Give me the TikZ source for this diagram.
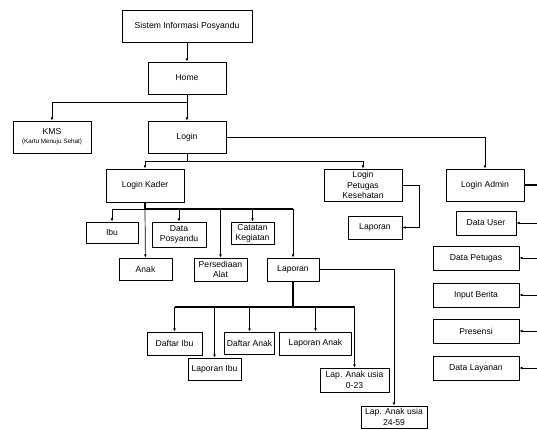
\documentclass[tikz,border=0pt]{standalone}
\usepackage{fontspec}
\setmainfont{Liberation Sans}
\usetikzlibrary{arrows.meta}

\tikzset{
  box/.style={draw, line width=0.9pt, inner sep=0pt, align=center,
    font=\fontsize{8.6}{10.2}\selectfont},
  link/.style={line width=0.7pt, -{Latex[length=3.2pt,width=2.8pt]}},
  bar/.style={line width=0.7pt},
  trunk/.style={line width=1.5pt}
}

\begin{document}
\begin{tikzpicture}[x=1pt,y=-1pt]
\useasboundingbox (0,0) rectangle (537,430);
% boxes
\node[box, minimum width=130pt, minimum height=32pt] (sip) at (187,26) {Sistem Informasi Posyandu};
\node[box, minimum width=78pt, minimum height=32pt] (home) at (187,78) {Home};
\node[box, minimum width=78pt, minimum height=32pt] (kms) at (52,137) {KMS\\[-1pt]{\fontsize{6.3}{8}\selectfont (Kartu Menuju Sehat)}};
\node[box, minimum width=78pt, minimum height=32pt] (login) at (187,137) {Login};
\node[box, minimum width=78pt, minimum height=33pt] (kader) at (145,185.5) {Login Kader};
\node[box, minimum width=78pt, minimum height=32pt] (petugas) at (363,185) {Login\\Petugas\\Kesehatan};
\node[box, minimum width=78pt, minimum height=32pt] (admin) at (485,185) {Login Admin};
\node[box, minimum width=54pt, minimum height=23pt] (lappetugas) at (375,227.5) {Laporan};
% admin menu
\node[box, minimum width=60pt, minimum height=24pt] (user) at (486,223) {Data User};
\node[box, minimum width=86pt, minimum height=24pt] (datapetugas) at (476,258) {Data Petugas};
\node[box, minimum width=86pt, minimum height=24pt] (berita) at (476,295) {Input Berita};
\node[box, minimum width=86pt, minimum height=24pt] (presensi) at (476,331) {Presensi};
\node[box, minimum width=86pt, minimum height=24pt] (layanan) at (476,368) {Data Layanan};
% kader menu
\node[box, minimum width=52pt, minimum height=21pt] (ibu) at (112,232.5) {Ibu};
\node[box, minimum width=53pt, minimum height=22pt] (anak) at (145.5,269) {Anak};
\node[box, minimum width=54pt, minimum height=25pt] (datapos) at (179,234.5) {Data\\Posyandu};
\node[box, minimum width=53pt, minimum height=23pt] (persediaan) at (220.5,269.5) {Persediaan\\Alat};
\node[box, minimum width=43pt, minimum height=22pt] (catatan) at (252.5,233) {Catatan\\Kegiatan};
\node[box, minimum width=52pt, minimum height=23pt] (laporan) at (293,269.5) {Laporan};
% laporan menu
\node[box, minimum width=55pt, minimum height=23pt] (daftaribu) at (174.5,343.5) {Daftar Ibu};
\node[box, minimum width=53pt, minimum height=22pt] (lapibu) at (214.5,369) {Laporan Ibu};
\node[box, minimum width=50pt, minimum height=22pt] (daftaranak) at (249.5,343) {Daftar Anak};
\node[box, minimum width=72pt, minimum height=23pt] (lapanak) at (315.5,343.5) {Laporan Anak};
\node[box, minimum width=69pt, minimum height=24pt] (lap023) at (354.5,380) {Lap. Anak usia\\0-23};
\node[box, minimum width=66pt, minimum height=22pt] (lap2459) at (394,417) {Lap. Anak usia\\24-59};
% split points
\coordinate (hsplit) at (187,102);
\coordinate (lsplit) at (187,161);
\coordinate (ksplit) at (145,209);
\coordinate (rsplit) at (293,307);
\coordinate (rail) at (540,185);
% connectors
\draw[link] (sip) -- (home);
\draw[bar] (home) -- (hsplit);
\draw[link] (hsplit) -| (kms);
\draw[link] (hsplit) -- (login);
\draw[link] (login) -| (admin);
\draw[bar] (login) -- (lsplit);
\draw[link] (lsplit) -| (kader);
\draw[link] (lsplit) -| (petugas);
\draw[link] (petugas.east) -- ++(17,0) |- (lappetugas);
% admin
\draw[trunk] (admin) -- (rail);
\draw[bar] (rail) -- (rail |- layanan.east);
\draw[link] (rail |- user.east) -- (user);
\draw[link] (rail |- datapetugas.east) -- (datapetugas);
\draw[link] (rail |- berita.east) -- (berita);
\draw[link] (rail |- presensi.east) -- (presensi);
\draw[link] (rail |- layanan.east) -- (layanan);
% kader
\draw[trunk] (kader) -- (ksplit);
\draw[bar] (ibu.north |- ksplit) -- (ksplit);
\draw[trunk] (ksplit) -- (laporan.north |- ksplit);
\draw[link] (ksplit) -| (ibu);
\draw[link] (ksplit) -- (anak);
\draw[link] (datapos.north |- ksplit) -- (datapos);
\draw[link] (persediaan.north |- ksplit) -- (persediaan);
\draw[link] (catatan.north |- ksplit) -- (catatan);
\draw[link] (laporan.north |- ksplit) -- (laporan);
% laporan
\draw[trunk] (laporan) -- (rsplit);
\draw[trunk] (daftaribu.north |- rsplit) -- (lap023.north |- rsplit);
\draw[link] (daftaribu.north |- rsplit) -- (daftaribu);
\draw[link] (lapibu.north |- rsplit) -- (lapibu);
\draw[link] (daftaranak.north |- rsplit) -- (daftaranak);
\draw[link] (lapanak.north |- rsplit) -- (lapanak);
\draw[link] (lap023.north |- rsplit) -- (lap023);
\draw[link] (laporan) -| (lap2459);
\end{tikzpicture}
\end{document}
